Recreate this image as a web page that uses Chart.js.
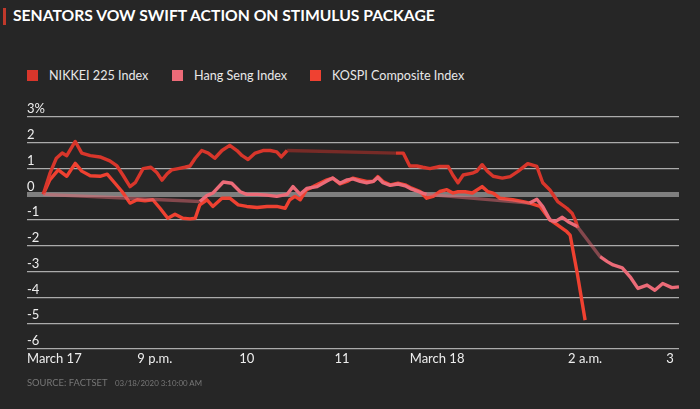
<!DOCTYPE html>
<html>
<head>
<meta charset="utf-8">
<script src="https://cdn.jsdelivr.net/npm/chart.js@4.4.0/dist/chart.umd.min.js"></script>
<style>
  html, body { margin: 0; padding: 0; background: #262626; }
  body { width: 700px; height: 409px; position: relative; overflow: hidden;
         font-family: Lato, "Liberation Sans", sans-serif; }
  #chart { position: absolute; left: 0; top: 0; }
  .title { position: absolute; left: 13px; top: 6px; color: #fff; font-weight: bold;
           font-size: 15.7px; }
  .bar { position: absolute; left: 3px; top: 8px; width: 3px; height: 17px; background: #c0392b; }
  .legend { position: absolute; top: 68px; left: 0; color: #e8e8e8; font-size: 12.6px; }
  .legend span { position: absolute; white-space: nowrap; }
  .legend i { position: absolute; width: 11px; height: 11px; top: 2px; }
  .source { position: absolute; top: 377px; left: 27px; color: #777; white-space: nowrap; }
  .source span { position: absolute; top: 0; }
</style>
</head>
<body>
<div class="bar"></div>
<div class="title">SENATORS VOW SWIFT ACTION ON STIMULUS PACKAGE</div>
<div class="legend" id="legend"></div>
<canvas id="chart" width="700" height="409"></canvas>
<div class="source">
  <span style="left:0; font-size:9.4px">SOURCE: FACTSET</span>
  <span style="left:88px; top:1px; font-size:7.9px">03/18/2020 3:10:00 AM</span>
</div>
<script>
// x = position along the time window (0 = left edge, 100 = right edge)
const tickPos = [0, 19.6, 33.7, 48.3, 62.9, 85.6, 99.2];
const tickLabels = ['March 17', '9 p.m.', '10', '11', 'March 18', '2 a.m.', '3'];

const seriesNames = ['NIKKEI 225 Index', 'Hang Seng Index', 'KOSPI Composite Index'];
const seriesColors = ['#d8362b', '#ec6b78', '#ef4131'];
const gapColors = ['rgba(200,48,40,0.5)', 'rgba(225,105,115,0.5)', 'rgba(235,65,50,0.5)'];

const nikkeiX = [2.5,3.5,4.5,5.4,6.1,7.4,8.4,9.7,11.2,12.7,13.8,14.7,15.8,16.6,17.8,19.0,19.9,20.7,21.5,22.2,
  23.2,24.2,25.0,25.8,26.8,27.8,28.8,29.9,31.1,32.2,33.0,33.9,35.0,36.2,37.3,38.3,39.0,39.9,
  56.6,57.7,58.7,59.8,60.7,61.8,63.3,64.6,65.3,66.1,66.9,68.3,69.0,69.8,70.6,71.5,72.9,74.1,75.3,76.8,
  78.2,79.1,80.2,81.4,82.8,83.6,84.1,84.5];
const nikkeiY = [0,0.8,1.4,1.6,1.5,2.05,1.6,1.5,1.45,1.3,1.1,0.75,0.3,0.45,1.0,1.05,0.85,0.55,0.8,0.95,
  1.0,1.05,1.1,1.4,1.7,1.6,1.4,1.7,1.9,1.7,1.5,1.35,1.6,1.7,1.7,1.65,1.45,1.7,
  1.6,1.6,1.1,1.1,1.05,1.0,1.08,1.08,0.75,0.45,0.75,0.82,0.9,1.15,0.9,0.7,0.63,0.69,0.89,1.19,
  1.08,0.45,0.17,-0.28,-0.54,-0.73,-1.0,-1.3];

const hangSengX = [2.5,26.5,27.6,28.5,30.1,31.4,32.7,33.7,35.3,36.8,38.3,39.9,40.8,41.9,42.9,44.5,46.0,46.9,
  48.0,49.1,50.0,51.1,52.1,53.1,53.8,54.6,55.7,56.9,58.0,59.0,60.3,61.3,
  77.1,78.2,79.1,80.2,81.0,82.1,83.0,84.4,87.9,89.0,89.9,91.3,92.5,93.7,95.1,96.3,97.5,98.9,100];
const hangSengY = [0,-0.28,-0.05,0.05,0.48,0.43,0.1,0,0,-0.03,-0.08,0,0.3,0,0.23,0.3,0.52,0.63,
  0.43,0.56,0.6,0.5,0.45,0.5,0.65,0.45,0.35,0.4,0.33,0.2,0.08,0,
  -0.34,-0.19,-0.47,-0.99,-1.06,-0.89,-1.06,-1.25,-2.42,-2.61,-2.74,-2.85,-3.2,-3.65,-3.52,-3.72,-3.46,-3.62,-3.59];

const kospiX = [2.5,3.5,4.8,6.1,7.4,8.4,9.7,11.2,12.3,13.5,14.6,15.8,16.9,18.1,19.3,20.4,21.6,22.7,23.9,25.0,
  25.8,26.5,27.6,28.5,29.9,31.1,32.4,33.7,35.3,36.8,38.3,39.6,40.3,41.1,41.9,42.9,43.9,44.9,46.0,46.9,
  48.0,49.1,50.0,51.1,52.1,53.1,53.8,54.6,55.7,56.9,58.0,59.0,60.3,61.3,62.3,63.3,64.4,65.3,66.1,67.2,
  68.3,69.8,70.7,71.5,72.5,74.5,76.1,77.1,78.7,80.2,81.4,82.8,83.3,84.4,85.6];
const kospiY = [0,0.56,0.95,0.7,1.2,0.9,0.72,0.7,0.78,0.43,0.1,-0.34,-0.21,-0.25,-0.21,-0.54,-0.93,-0.77,-0.93,-0.95,
  -0.93,-0.41,-0.21,-0.47,-0.15,-0.15,-0.41,-0.47,-0.51,-0.47,-0.47,-0.54,-0.21,-0.08,-0.21,0.18,0.3,0.43,0.56,0.63,
  0.4,0.5,0.63,0.56,0.5,0.5,0.69,0.5,0.37,0.43,0.37,0.24,0.11,-0.15,-0.08,0.11,0.18,0.05,0.1,0.1,
  0.05,0.3,0.1,0.05,-0.15,-0.21,-0.28,-0.34,-0.47,-0.99,-1.19,-1.45,-1.58,-3.07,-4.88];

const zip = (xs, ys) => xs.map((x, i) => ({ x: x, y: ys[i] }));

// legend
const legendLeft = [27, 172, 310];
const legend = document.getElementById('legend');
seriesNames.forEach((name, i) => {
  const sq = document.createElement('i');
  sq.style.left = legendLeft[i] + 'px';
  sq.style.background = seriesColors[i];
  const tx = document.createElement('span');
  tx.style.left = (legendLeft[i] + 22) + 'px';
  tx.textContent = name;
  legend.appendChild(sq);
  legend.appendChild(tx);
});

const makeSet = (i, data, order) => ({
  label: seriesNames[i],
  data: data,
  borderColor: seriesColors[i],
  borderWidth: 3.4,
  pointRadius: 0,
  tension: 0,
  borderJoinStyle: 'round',
  order: order,
  segment: {
    // long jumps between samples are market breaks, drawn faded
    borderColor: ctx => (ctx.p1.parsed.x - ctx.p0.parsed.x > 3 ? gapColors[i] : undefined),
  },
});

const font = { family: 'Lato, "Liberation Sans", sans-serif', size: 13 };

new Chart(document.getElementById('chart'), {
  type: 'line',
  data: {
    datasets: [
      makeSet(0, zip(nikkeiX, nikkeiY), 1),
      makeSet(1, zip(hangSengX, hangSengY), 0),
      makeSet(2, zip(kospiX, kospiY), 2),
    ],
  },
  options: {
    responsive: false,
    animation: false,
    devicePixelRatio: 1,
    layout: { padding: { left: 27, right: 21, top: 117, bottom: 30 } },
    plugins: { legend: { display: false }, tooltip: { enabled: false } },
    scales: {
      x: {
        type: 'linear',
        min: 0,
        max: 100,
        afterBuildTicks: (scale) => {
          scale.ticks = tickPos.map((v) => ({ value: v }));
        },
        afterFit: (scale) => {
          scale.height = 30;
        },
        grid: { display: false, drawTicks: false },
        border: { display: false },
        ticks: {
          autoSkip: false,
          maxRotation: 0,
          align: 'inner',
          padding: 2,
          color: '#eeeeee',
          font: font,
          callback: (v, i) => tickLabels[i],
        },
      },
      y: {
        min: -6,
        max: 3,
        afterFit: (scale) => {
          scale.width = 0;
        },
        border: { display: false },
        grid: {
          drawTicks: false,
          color: (ctx) => (ctx.tick.value === 0 ? '#7f7f7f' : '#ababab'),
          lineWidth: (ctx) => (ctx.tick.value === 0 ? 5 : 1.3),
        },
        ticks: {
          stepSize: 1,
          mirror: true,
          padding: 0,
          labelOffset: -8,
          color: '#eeeeee',
          font: font,
          callback: (v) => (v === 3 ? '3%' : String(v)),
        },
      },
    },
  },
});
</script>
</body>
</html>
